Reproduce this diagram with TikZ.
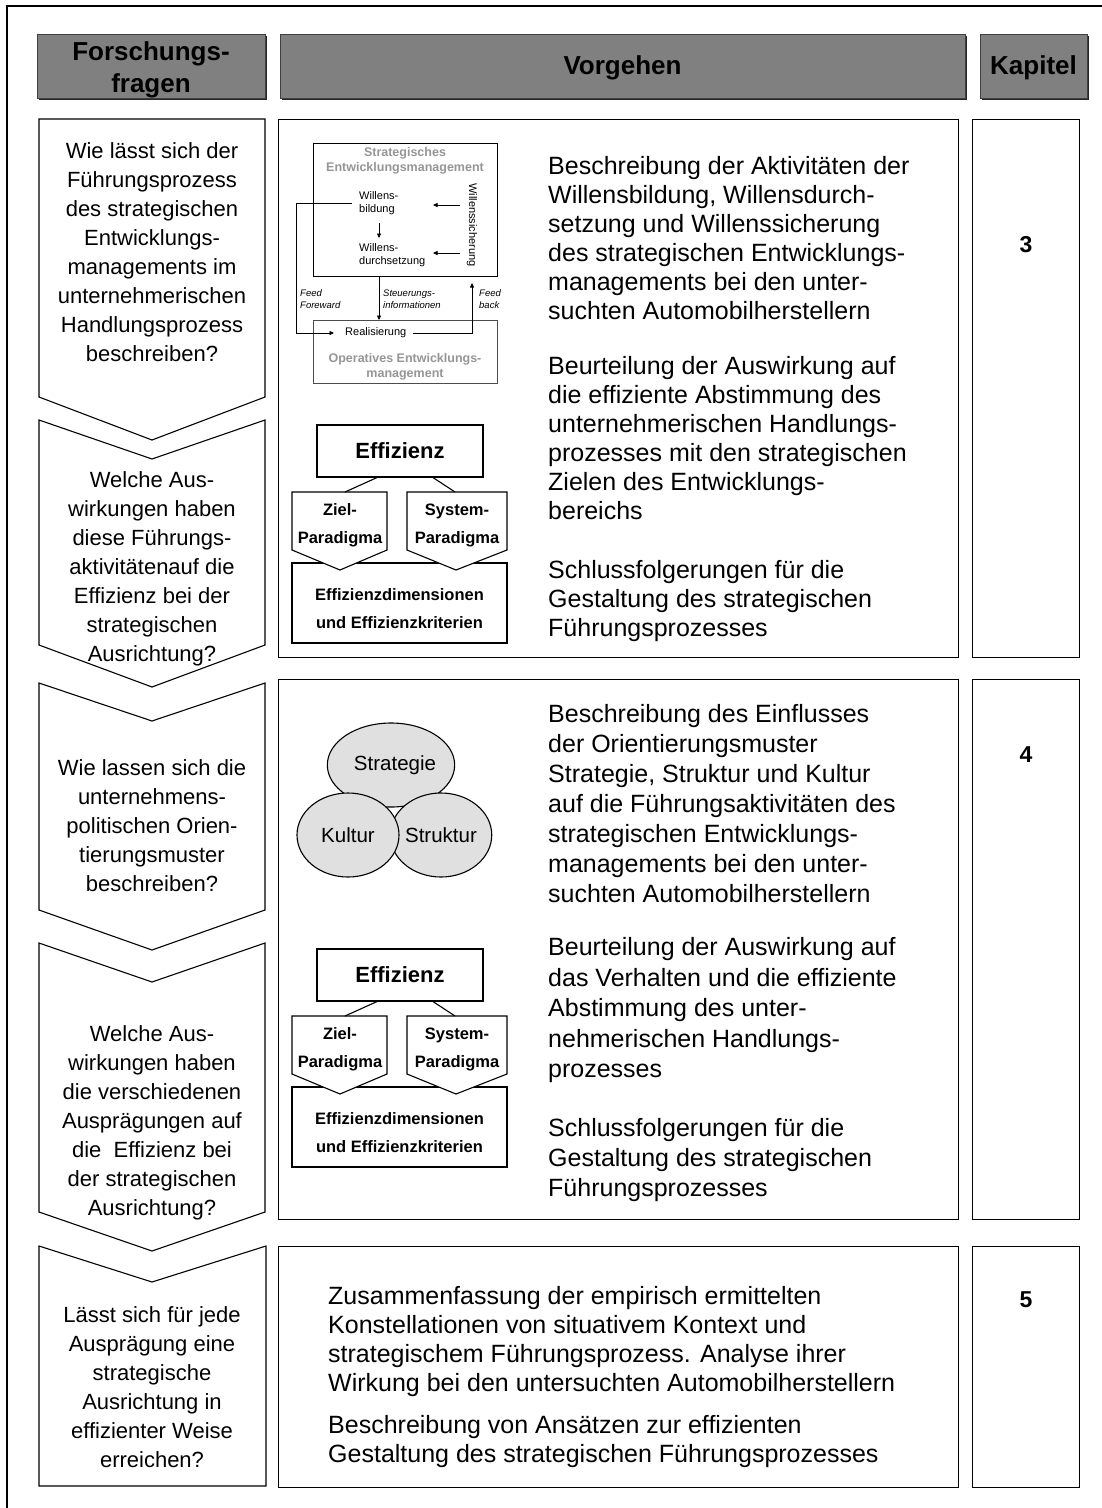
\documentclass[tikz,border=0pt]{standalone}
\usepackage{fontspec}
\setmainfont{Liberation Sans}
\usetikzlibrary{arrows.meta,shapes.geometric}
\definecolor{hdrgray}{RGB}{128,128,128}
\definecolor{lightfill}{RGB}{224,224,224}
\definecolor{titlegray}{RGB}{150,150,150}
\newcommand{\EffDiagram}[2]{%
\begin{scope}[shift={(0,#2)}]
  \node[effbox, minimum width=215pt, minimum height=80pt] (#1dimbox) at (399.5,603) {};
  \node[efftext] (#1dim) at (399.5,609) {Effizienzdimensionen\\und Effizienzkriterien};
  \node[effbox, minimum width=166pt, minimum height=52pt, inner sep=0,
        font=\fontsize{22}{26}\selectfont\bfseries] (#1eff) at (400,451) {Effizienz};
  \draw[effbox] (292,492) -- (387,492) -- (387,550) -- (340,570) -- (292,550) -- cycle;
  \draw[effbox] (407,492) -- (507,492) -- (507,550) -- (456,570) -- (407,550) -- cycle;
  \coordinate (#1zieltop) at (345,492);
  \coordinate (#1systop) at (455,492);
  \draw[line width=1.1pt] ([xshift=-23pt]#1eff.south) -- (#1zieltop);
  \draw[line width=1.1pt] ([xshift=33pt]#1eff.south) -- (#1systop);
  \node[efftext] (#1ziel) at (340,525) {Ziel-\\Paradigma};
  \node[efftext] (#1sys) at (457,525) {System-\\Paradigma};
\end{scope}}
\begin{document}
\begin{tikzpicture}[x=1pt,y=-1pt,
  frame/.style={draw=black, line width=1.1pt},
  hdrbox/.style={draw=black!75, fill=hdrgray, line width=0.8pt},
  hdrshadow/.style={fill=black!85},
  hdrtext/.style={align=center, inner sep=0, font=\fontsize{26}{32}\selectfont\bfseries},
  qtext/.style={align=center, anchor=north, inner sep=0, font=\fontsize{22}{29}\selectfont},
  mtext/.style={align=left, anchor=north west, inner sep=0, font=\fontsize{25}{29}\selectfont},
  numtext/.style={inner sep=0, font=\fontsize{23}{26}\selectfont\bfseries},
  smalltext/.style={align=left, inner sep=0, font=\fontsize{11}{13}\selectfont},
  sectitle/.style={align=center, inner sep=0, text=titlegray, font=\fontsize{12.5}{15}\selectfont\bfseries},
  itext/.style={align=left, inner sep=0, font=\fontsize{9.5}{12}\selectfont\itshape},
  tip/.style={-{Triangle[length=4.5pt,width=4pt]}, line width=0.7pt},
  effbox/.style={draw=black, line width=1.1pt, fill=white},
  efftext/.style={align=center, inner sep=0, font=\fontsize{16.5}{28}\selectfont\bfseries},
  circnode/.style={ellipse, draw=black, line width=1.1pt, fill=lightfill, inner sep=0,
                   font=\fontsize{20.5}{24}\selectfont}
]
\useasboundingbox (0,0) rectangle (1102,1508);
\fill[white] (0,0) rectangle (1102,1508);
% outer frame
\draw[line width=1.2pt] (7,1520) -- (7,6) -- (1110,6);

% header
\fill[hdrshadow] (39,36) rectangle (267,100);
\fill[hdrshadow] (282,36) rectangle (967,100);
\fill[hdrshadow] (982,36) rectangle (1089,100);
\node[hdrbox, minimum width=228pt, minimum height=64pt] (hq) at (151,66) {};
\node[hdrtext] (hqt) at (151,70) {Forschungs-\\fragen};
\node[hdrbox, minimum width=685pt, minimum height=64pt] (hv) at (622.5,66) {};
\node[hdrtext] (hvt) at (622.5,68) {Vorgehen};
\node[hdrbox, minimum width=107pt, minimum height=64pt] (hk) at (1033.5,66) {};
\node[hdrtext] (hkt) at (1033.5,68) {Kapitel};

% question chevrons
\draw[frame] (39,119) -- (265,119) -- (265,397) -- (152,440) -- (39,397) -- cycle;
\draw[frame] (39,420) -- (152,459) -- (265,420) -- (265,645) -- (152,687) -- (39,645) -- cycle;
\draw[frame] (39,683) -- (152,721) -- (265,683) -- (265,910) -- (152,950) -- (39,910) -- cycle;
\draw[frame] (39,943) -- (152,982) -- (265,943) -- (265,1212) -- (152,1251) -- (39,1212) -- cycle;
\draw[frame] (39,1246) -- (152,1282) -- (266,1246) -- (266,1486) -- (39,1486) -- cycle;

\node[qtext] (q1) at (152,138) {\strut Wie lässt sich der\\Führungsprozess\\des strategischen\\Entwicklungs-\\managements im\\unternehmerischen\\Handlungsprozess\\beschreiben?};
\node[qtext] (q2) at (152,467) {\strut Welche Aus-\\wirkungen haben\\diese Führungs-\\aktivitätenauf die\\Effizienz bei der\\strategischen\\Ausrichtung?};
\node[qtext] (q3) at (152,755) {\strut Wie lassen sich die\\unternehmens-\\politischen Orien-\\tierungsmuster\\beschreiben?};
\node[qtext] (q4) at (152,1021) {\strut Welche Aus-\\wirkungen haben\\die verschiedenen\\Ausprägungen auf\\die~ Effizienz bei\\der strategischen\\Ausrichtung?};
\node[qtext] (q5) at (152,1302) {\strut Lässt sich für jede\\Ausprägung eine\\strategische\\Ausrichtung in\\effizienter Weise\\erreichen?};

% main boxes
\node[frame, minimum width=680pt, minimum height=538pt, anchor=north west] (m1) at (278,119) {};
\node[frame, minimum width=680pt, minimum height=540pt, anchor=north west] (m2) at (278,679) {};
\node[frame, minimum width=680pt, minimum height=241pt, anchor=north west] (m3) at (278,1246) {};
\node[frame, minimum width=107pt, minimum height=538pt, anchor=north west] (k1) at (972,119) {};
\node[frame, minimum width=107pt, minimum height=540pt, anchor=north west] (k2) at (972,679) {};
\node[frame, minimum width=107pt, minimum height=241pt, anchor=north west] (k3) at (972,1246) {};
\node[numtext] (n3) at (1026,245) {3};
\node[numtext] (n4) at (1026,755) {4};
\node[numtext] (n5) at (1026,1300) {5};

% main texts
\node[mtext] (t11) at (548,154) {\strut Beschreibung der Aktivitäten der\\Willensbildung, Willensdurch-\\setzung und Willenssicherung\\des strategischen Entwicklungs-\\managements bei den unter-\\suchten Automobilherstellern};
\node[mtext] (t12) at (548,354) {\strut Beurteilung der Auswirkung auf\\die effiziente Abstimmung des\\unternehmerischen Handlungs-\\prozesses mit den strategischen\\Zielen des Entwicklungs-\\bereichs};
\node[mtext] (t13) at (548,558) {\strut Schlussfolgerungen für die\\Gestaltung des strategischen\\Führungsprozesses};
\node[mtext, font=\fontsize{25}{30}\selectfont] (t21) at (548,701) {\strut Beschreibung des Einflusses\\der Orientierungsmuster\\Strategie, Struktur und Kultur\\auf die Führungsaktivitäten des\\strategischen Entwicklungs-\\managements bei den unter-\\suchten Automobilherstellern};
\node[mtext, font=\fontsize{25}{30.5}\selectfont] (t22) at (548,934) {\strut Beurteilung der Auswirkung auf\\das Verhalten und die effiziente\\Abstimmung des unter-\\nehmerischen Handlungs-\\prozesses};
\node[mtext, font=\fontsize{25}{30}\selectfont] (t23) at (548,1115) {\strut Schlussfolgerungen für die\\Gestaltung des strategischen\\Führungsprozesses};
\node[mtext] (t31) at (328,1284) {\strut Zusammenfassung der empirisch ermittelten\\Konstellationen von situativem Kontext und\\strategischem Führungsprozess. Analyse ihrer\\Wirkung bei den untersuchten Automobilherstellern};
\node[mtext] (t32) at (328,1413) {\strut Beschreibung von Ansätzen zur effizienten\\Gestaltung des strategischen Führungsprozesses};

% small process diagram
\node[draw=black, line width=0.8pt, minimum width=184pt, minimum height=133pt, anchor=north west] (sem) at (313,143) {};
\node[draw=black!70, line width=0.8pt, minimum width=184pt, minimum height=63pt, anchor=north west] (oem) at (313,320) {};
\node[sectitle] (semt) at (405,161) {Strategisches\\Entwicklungsmanagement};
\node[sectitle] (oemt) at (405,367) {Operatives Entwicklungs-\\management};
\node[smalltext, anchor=west] (wb) at (359,203) {Willens-\\bildung};
\node[smalltext, anchor=west] (wd) at (359,255) {Willens-\\durchsetzung};
\node[smalltext, rotate=-90] (ws) at (472,225) {Willenssicherung};
\node[smalltext, anchor=west, inner xsep=0] (real) at (345,333) {Realisierung};
\coordinate (wbarr) at (379,223);
\coordinate (wdarr) at (379,238);
\draw[tip] (wbarr) -- (wdarr);
\coordinate (ws1) at (460,205);
\coordinate (ws1e) at (433,205);
\coordinate (ws2) at (460,253);
\coordinate (ws2e) at (433,253);
\draw[tip] (ws1) -- (ws1e);
\draw[tip] (ws2) -- (ws2e);
\coordinate (ffx) at (296,203);
\coordinate (ffe) at (334,333);
\draw[tip] (352,203) -- (ffx) |- (ffe);
\draw[tip] (sem.south -| wbarr) -- (oem.north -| wbarr);
\coordinate (fbx) at (472,333);
\coordinate (fbe) at (472,283);
\draw[tip] ([xshift=6pt]real.east) -- (fbx) -- (fbe);
\node[itext, anchor=west] (ff) at (300,299) {Feed\\Foreward};
\node[itext, anchor=west] (si) at (383,299) {Steuerungs-\\informationen};
\node[itext, anchor=west] (fb) at (479,299) {Feed\\back};

% Effizienz diagrams
\EffDiagram{a}{0}
\EffDiagram{b}{524}

% circles
\node[circnode, minimum width=102pt, minimum height=84pt] (strat) at (391,765) {\hspace*{8pt}Strategie};
\node[circnode, minimum width=96pt, minimum height=84pt] (struk) at (441,835) {Struktur};
\node[circnode, minimum width=102pt, minimum height=84pt] (kult) at (348,835) {Kultur};
\end{tikzpicture}
\end{document}
